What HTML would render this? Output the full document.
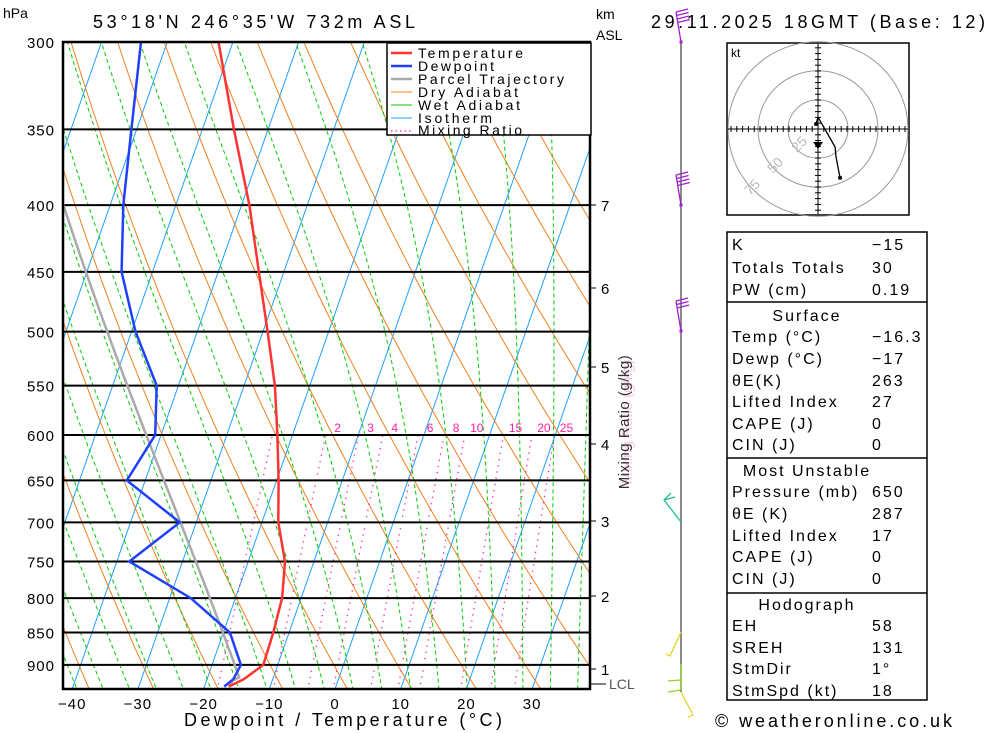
<!DOCTYPE html>
<html><head><meta charset="utf-8">
<style>
body{margin:0;background:#fff;}
svg{display:block;font-family:"Liberation Sans",sans-serif;}
</style></head>
<body>
<svg id="chart" width="1000" height="733" viewBox="0 0 1000 733" xmlns="http://www.w3.org/2000/svg">
<defs><clipPath id="plotclip"><rect x="63" y="42" width="527" height="647"/></clipPath></defs>
<g id="bg" clip-path="url(#plotclip)"></g>
<g id="iso"></g>
<g id="prof" clip-path="url(#plotclip)"></g>
<rect x="63" y="42" width="527" height="647" fill="none" stroke="#000" stroke-width="2.5"/>
<g id="axes"></g>
<g font-size="14">
<rect x="387" y="43" width="204" height="92" fill="#fff" stroke="#000" stroke-width="1.5"/>
<line x1="391" y1="53" x2="412" y2="53" stroke="#ff3333" stroke-width="2.5"/><text x="418" y="58" textLength="105" lengthAdjust="spacing">Temperature</text>
<line x1="391" y1="66" x2="412" y2="66" stroke="#2040ff" stroke-width="2.5"/><text x="418" y="71" textLength="76" lengthAdjust="spacing">Dewpoint</text>
<line x1="391" y1="79" x2="412" y2="79" stroke="#aaa" stroke-width="2.5"/><text x="418" y="84" textLength="146" lengthAdjust="spacing">Parcel Trajectory</text>
<line x1="391" y1="92" x2="412" y2="92" stroke="#f08020" stroke-width="1"/><text x="418" y="97" textLength="100" lengthAdjust="spacing">Dry Adiabat</text>
<line x1="391" y1="105" x2="412" y2="105" stroke="#00cc00" stroke-width="1"/><text x="418" y="110" textLength="102" lengthAdjust="spacing">Wet Adiabat</text>
<line x1="391" y1="118" x2="412" y2="118" stroke="#20a0ff" stroke-width="1"/><text x="418" y="123" textLength="74" lengthAdjust="spacing">Isotherm</text>
<line x1="391" y1="131" x2="412" y2="131" stroke="#ff20a0" stroke-width="1.2" stroke-dasharray="1.5 3"/><text x="418" y="135" textLength="104" lengthAdjust="spacing">Mixing Ratio</text>
</g>
<text x="3" y="18" font-size="14">hPa</text>
<text x="93" y="28" font-size="18" textLength="322" lengthAdjust="spacing">53°18'N  246°35'W  732m  ASL</text>
<text x="596" y="19" font-size="14">km</text>
<text x="596" y="40" font-size="14">ASL</text>
<text x="651" y="28" font-size="18" textLength="334" lengthAdjust="spacing">29.11.2025  18GMT  (Base: 12)</text>
<text x="184" y="726" font-size="18" textLength="318" lengthAdjust="spacing">Dewpoint / Temperature (°C)</text>
<text transform="translate(632,422) rotate(-90)" font-size="15" fill="#f8c8e0" text-anchor="middle">Mixing Ratio (g/kg)</text>
<text transform="translate(629,422) rotate(-90)" font-size="15" fill="#333" text-anchor="middle" letter-spacing="0.5">Mixing Ratio (g/kg)</text>
<g id="wind"></g>
<g id="hodo"></g>
<g id="table"></g>
<text x="715" y="727" font-size="18" textLength="237" lengthAdjust="spacing">© weatheronline.co.uk</text>
</svg>
<script>
const pressureLevels=[300,350,400,450,500,550,600,650,700,750,800,850,900];
const tempTicks=[-40,-30,-20,-10,0,10,20,30];
const tempP=[935,923,900,850,800,750,700,650,600,550,500,450,400,350,300];
const tempT=[-16.3,-14.4,-12.2,-12.4,-12.9,-14.4,-17.5,-19.7,-22.3,-25.3,-29.3,-33.8,-38.8,-45.2,-52.2];
const dewP=[935,923,900,850,800,750,700,650,600,550,500,450,400,350,300];
const dewT=[-17,-16,-15.6,-19,-26.8,-38.1,-32.5,-42.8,-40.9,-43.3,-49.4,-54.7,-58,-60.8,-64];
const mixRatios=[1,2,3,4,6,8,10,15,20,25];
const mixLabels=["2","3","4","6","8","10","15","20","25"];
const kmLabels=["1","2","3","4","5","6","7"];
const kmY=[669,596,521,444,367,288,205];
const tableRows=[["K","−15"],["Totals Totals","30"],["PW (cm)","0.19"],["#Surface",""],["Temp (°C)","−16.3"],["Dewp (°C)","−17"],["θE(K)","263"],["Lifted Index","27"],["CAPE (J)","0"],["CIN (J)","0"],["#Most Unstable",""],["Pressure (mb)","650"],["θE (K)","287"],["Lifted Index","17"],["CAPE (J)","0"],["CIN (J)","0"],["#Hodograph",""],["EH","58"],["SREH","131"],["StmDir","1°"],["StmSpd (kt)","18"]];
const rowY=[244,267,289,315,336,358,380,401,423,444,470,491,513,535,556,578,604,625,647,668,690];
const hodoU=[-1.7,0,3,14.7,15.5,19];
const hodoV=[4.3,10.3,5,-15.5,-24,-42];

const NS="http://www.w3.org/2000/svg";
const K=0.35;
function Y(p){return 42+567*Math.log(p/300);}
function X(T,p){return 335+6.57*T+(689-Y(p))*K;}
function mk(tag,attrs,parent){const e=document.createElementNS(NS,tag);for(const k in attrs)e.setAttribute(k,attrs[k]);parent.appendChild(e);return e;}
function pathFrom(pts){return pts.map((q,i)=>(i?'L':'M')+q[0].toFixed(1)+','+q[1].toFixed(1)).join('');}
const bg=document.getElementById('bg');
for(let T=-120;T<=50;T+=10){
  const l=mk('line',{x1:X(T,1050),y1:Y(1050),x2:X(T,280),y2:Y(280),stroke:'#20a0ff','stroke-width':1},bg);
  
  
}
for(let th=220;th<=480;th+=10){
  const pts=[];for(let p=1050;p>=280;p-=10){pts.push([X(th*Math.pow(p/1000,0.2857)-273.15,p),Y(p)]);}
  const e=mk('path',{d:pathFrom(pts),fill:'none',stroke:'#f08020','stroke-width':1},bg);
  
  
}
function es(T){return 6.112*Math.exp(17.67*T/(T+243.5));}
function moist(T0,p0,p1){
  const pts=[];let T=T0;const dp=p1<p0?-5:5;
  for(let p=p0;dp<0?p>=p1:p<=p1;p+=dp){
    pts.push([p,T]);
    const Tk=T+273.15,e=es(T),ws=0.622*e/(p-e);
    const dTdp=(287*Tk+2.5e6*ws)/(p*(1004+2.5e6*2.5e6*ws*0.622/(287*Tk*Tk)));
    T+=dTdp*dp;
  }
  return pts;
}
for(let T0=-36;T0<=40;T0+=4){
  const pts=moist(T0,1050,280).map(q=>[X(q[1],q[0]),Y(q[0])]);
  const e=mk('path',{d:pathFrom(pts),fill:'none',stroke:'#00cc00','stroke-width':1,'stroke-dasharray':'4 3'},bg);
  
  
}
function Tw(w,p){const e=w*p/(622+w);const a=Math.log(e/6.112);return 243.5*a/(17.67-a);}
mixRatios.forEach(w=>{
  const pts=[];for(let p=1050;p>=600;p-=10)pts.push([X(Tw(w,p),p),Y(p)]);
  const e=mk('path',{d:pathFrom(pts),fill:'none',stroke:'#ff20a0','stroke-width':1.3,'stroke-dasharray':'1.3 5'},bg);
  
  
});
const axes=document.getElementById('axes');
mixRatios.slice(1).forEach((w,i)=>{
  const t=mk('text',{x:X(Tw(w,600),600)+12,y:432,'font-size':12,fill:'#ff20a0','text-anchor':'middle'},axes);
  t.textContent=mixLabels[i];
  
  
});
const iso=document.getElementById('iso');
pressureLevels.forEach(p=>{
  const l=mk('line',{x1:63,y1:Y(p),x2:590,y2:Y(p),stroke:'#000','stroke-width':2},iso);
  
  
  const t=mk('text',{x:55,y:Y(p)+6,'font-size':15,'text-anchor':'end','letter-spacing':1},axes);
  t.textContent=p;
  
  
});
tempTicks.forEach(T=>{
  const x=335+6.57*T;
  const t=mk('text',{x:x,y:709,'font-size':15,'text-anchor':'middle','letter-spacing':1},axes);
  t.textContent=(T<0?'−':'')+Math.abs(T);
  
  
});
kmLabels.forEach((k,i)=>{
  mk('line',{x1:590,y1:kmY[i],x2:596,y2:kmY[i],stroke:'#000'},axes);
  const t=mk('text',{x:601,y:kmY[i]+6,'font-size':15},axes);
  t.textContent=k;
  
  
});
mk('line',{x1:590,y1:684,x2:606,y2:684,stroke:'#000'},axes);
const lcl=mk('text',{x:609,y:689,'font-size':14,fill:'#555'},axes);lcl.textContent='LCL';


const prof=document.getElementById('prof');
const parcel=[[X(-16.3,935),Y(935)],[X(-16.0,925),Y(925)]].concat(moist(-15.2,920,280).map(q=>[X(q[1],q[0]),Y(q[0])]));
let e=mk('path',{d:pathFrom(parcel),fill:'none',stroke:'#aaa','stroke-width':2.5},prof);


e=mk('path',{d:pathFrom(tempP.map((p,i)=>[X(tempT[i],p),Y(p)])),fill:'none',stroke:'#ff3333','stroke-width':2.5},prof);


e=mk('path',{d:pathFrom(dewP.map((p,i)=>[X(dewT[i],p),Y(p)])),fill:'none',stroke:'#2040ff','stroke-width':2.5},prof);


const wind=document.getElementById('wind');
mk('line',{x1:681,y1:42,x2:681,y2:692,stroke:'#666','stroke-width':1.5},wind);
function barb(y,col,len,n){
  const g=mk('g',{stroke:col,'stroke-width':1.3,fill:'none'},wind);
  
  
  mk('line',{x1:681,y1:y,x2:676,y2:y-len},g);
  for(let i=0;i<n;i++)mk('line',{x1:676+i*0.6,y1:y-len+i*3.5,x2:688+i*0.6,y2:y-len+i*3.5-3},g);
  mk('rect',{x:679.5,y:y-1.5,width:3,height:3,fill:col,stroke:'none'},g);
}
barb(42,'#a020d0',30,4);barb(205,'#a020d0',30,4);barb(331,'#a020d0',30,3);
const tw=mk('path',{d:'M681,522 L664,500 L671,493 M664,500 L675,497',stroke:'#20c090','stroke-width':1.3,fill:'none'},wind);


const yw=mk('path',{d:'M681,632 L670,656 L666,654 M681,692 L693,715 L688,717',stroke:'#e0d020','stroke-width':1.2,fill:'none'},wind);


const gw=mk('path',{d:'M681,664 L681,690 L668,692 M681,680 L668,681',stroke:'#90d020','stroke-width':1.3,fill:'none'},wind);


const hodo=document.getElementById('hodo');
const cx=818,cy=129,sc=30/25;
mk('rect',{x:727,y:43,width:182,height:172,fill:'#fff',stroke:'#000','stroke-width':1.5},hodo);
[25,50,75].forEach(r=>{mk('ellipse',{cx:cx,cy:cy,rx:r*sc,ry:r*sc*0.97,fill:'none',stroke:'#999'},hodo);});
mk('line',{x1:728,y1:cy,x2:908,y2:cy,stroke:'#000'},hodo);
mk('line',{x1:cx,y1:44,x2:cx,y2:214,stroke:'#000'},hodo);
for(let i=-15;i<=15;i++){if(!i)continue;const d=i*5.8;
 if(cx+d>728&&cx+d<908)mk('line',{x1:cx+d,y1:cy-3,x2:cx+d,y2:cy+3,stroke:'#000'},hodo);
 if(cy+d>44&&cy+d<214)mk('line',{x1:cx-3,y1:cy+d,x2:cx+3,y2:cy+d,stroke:'#000'},hodo);}
const hl=mk('path',{d:pathFrom(hodoU.map((u,i)=>[cx+u*1.16,cy-hodoV[i]*1.16])),fill:'none',stroke:'#000','stroke-width':1.3},hodo);


mk('circle',{cx:cx+hodoU[0]*1.16,cy:cy-hodoV[0]*1.16,r:2,fill:'#000'},hodo);
mk('circle',{cx:cx+hodoU[5]*1.16,cy:cy-hodoV[5]*1.16,r:2,fill:'#000'},hodo);
mk('path',{d:`M${cx-5},${cy+13} L${cx+5},${cy+13} L${cx},${cy+20} Z`,fill:'#000'},hodo);
let ht=mk('text',{x:731,y:57,'font-size':12},hodo);ht.textContent='kt';
[['25',797,153],['50',773,174],['75',750,196]].forEach(a=>{const t=mk('text',{x:a[1],y:a[2],'font-size':14,fill:'#bbb',transform:`rotate(-45 ${a[1]} ${a[2]})`},hodo);t.textContent=a[0];});
const tb=document.getElementById('table');
mk('rect',{x:727,y:232,width:200,height:468,fill:'none',stroke:'#000','stroke-width':1.5},tb);
[302,458,593].forEach(y=>mk('line',{x1:727,y1:y,x2:927,y2:y,stroke:'#000','stroke-width':1.5},tb));
tableRows.forEach((r,i)=>{
  const y=rowY[i]+6;
  if(r[0][0]==='#'){const t=mk('text',{x:807,y:y,'font-size':16,'text-anchor':'middle','letter-spacing':2},tb);t.textContent=r[0].slice(1);
    
    return;}
  const a=mk('text',{x:732,y:y,'font-size':16,'letter-spacing':2},tb);a.textContent=r[0];
  
  
  const b=mk('text',{x:872,y:y,'font-size':16,'letter-spacing':2},tb);b.textContent=r[1];
  
  
});
</script>
</body></html>
